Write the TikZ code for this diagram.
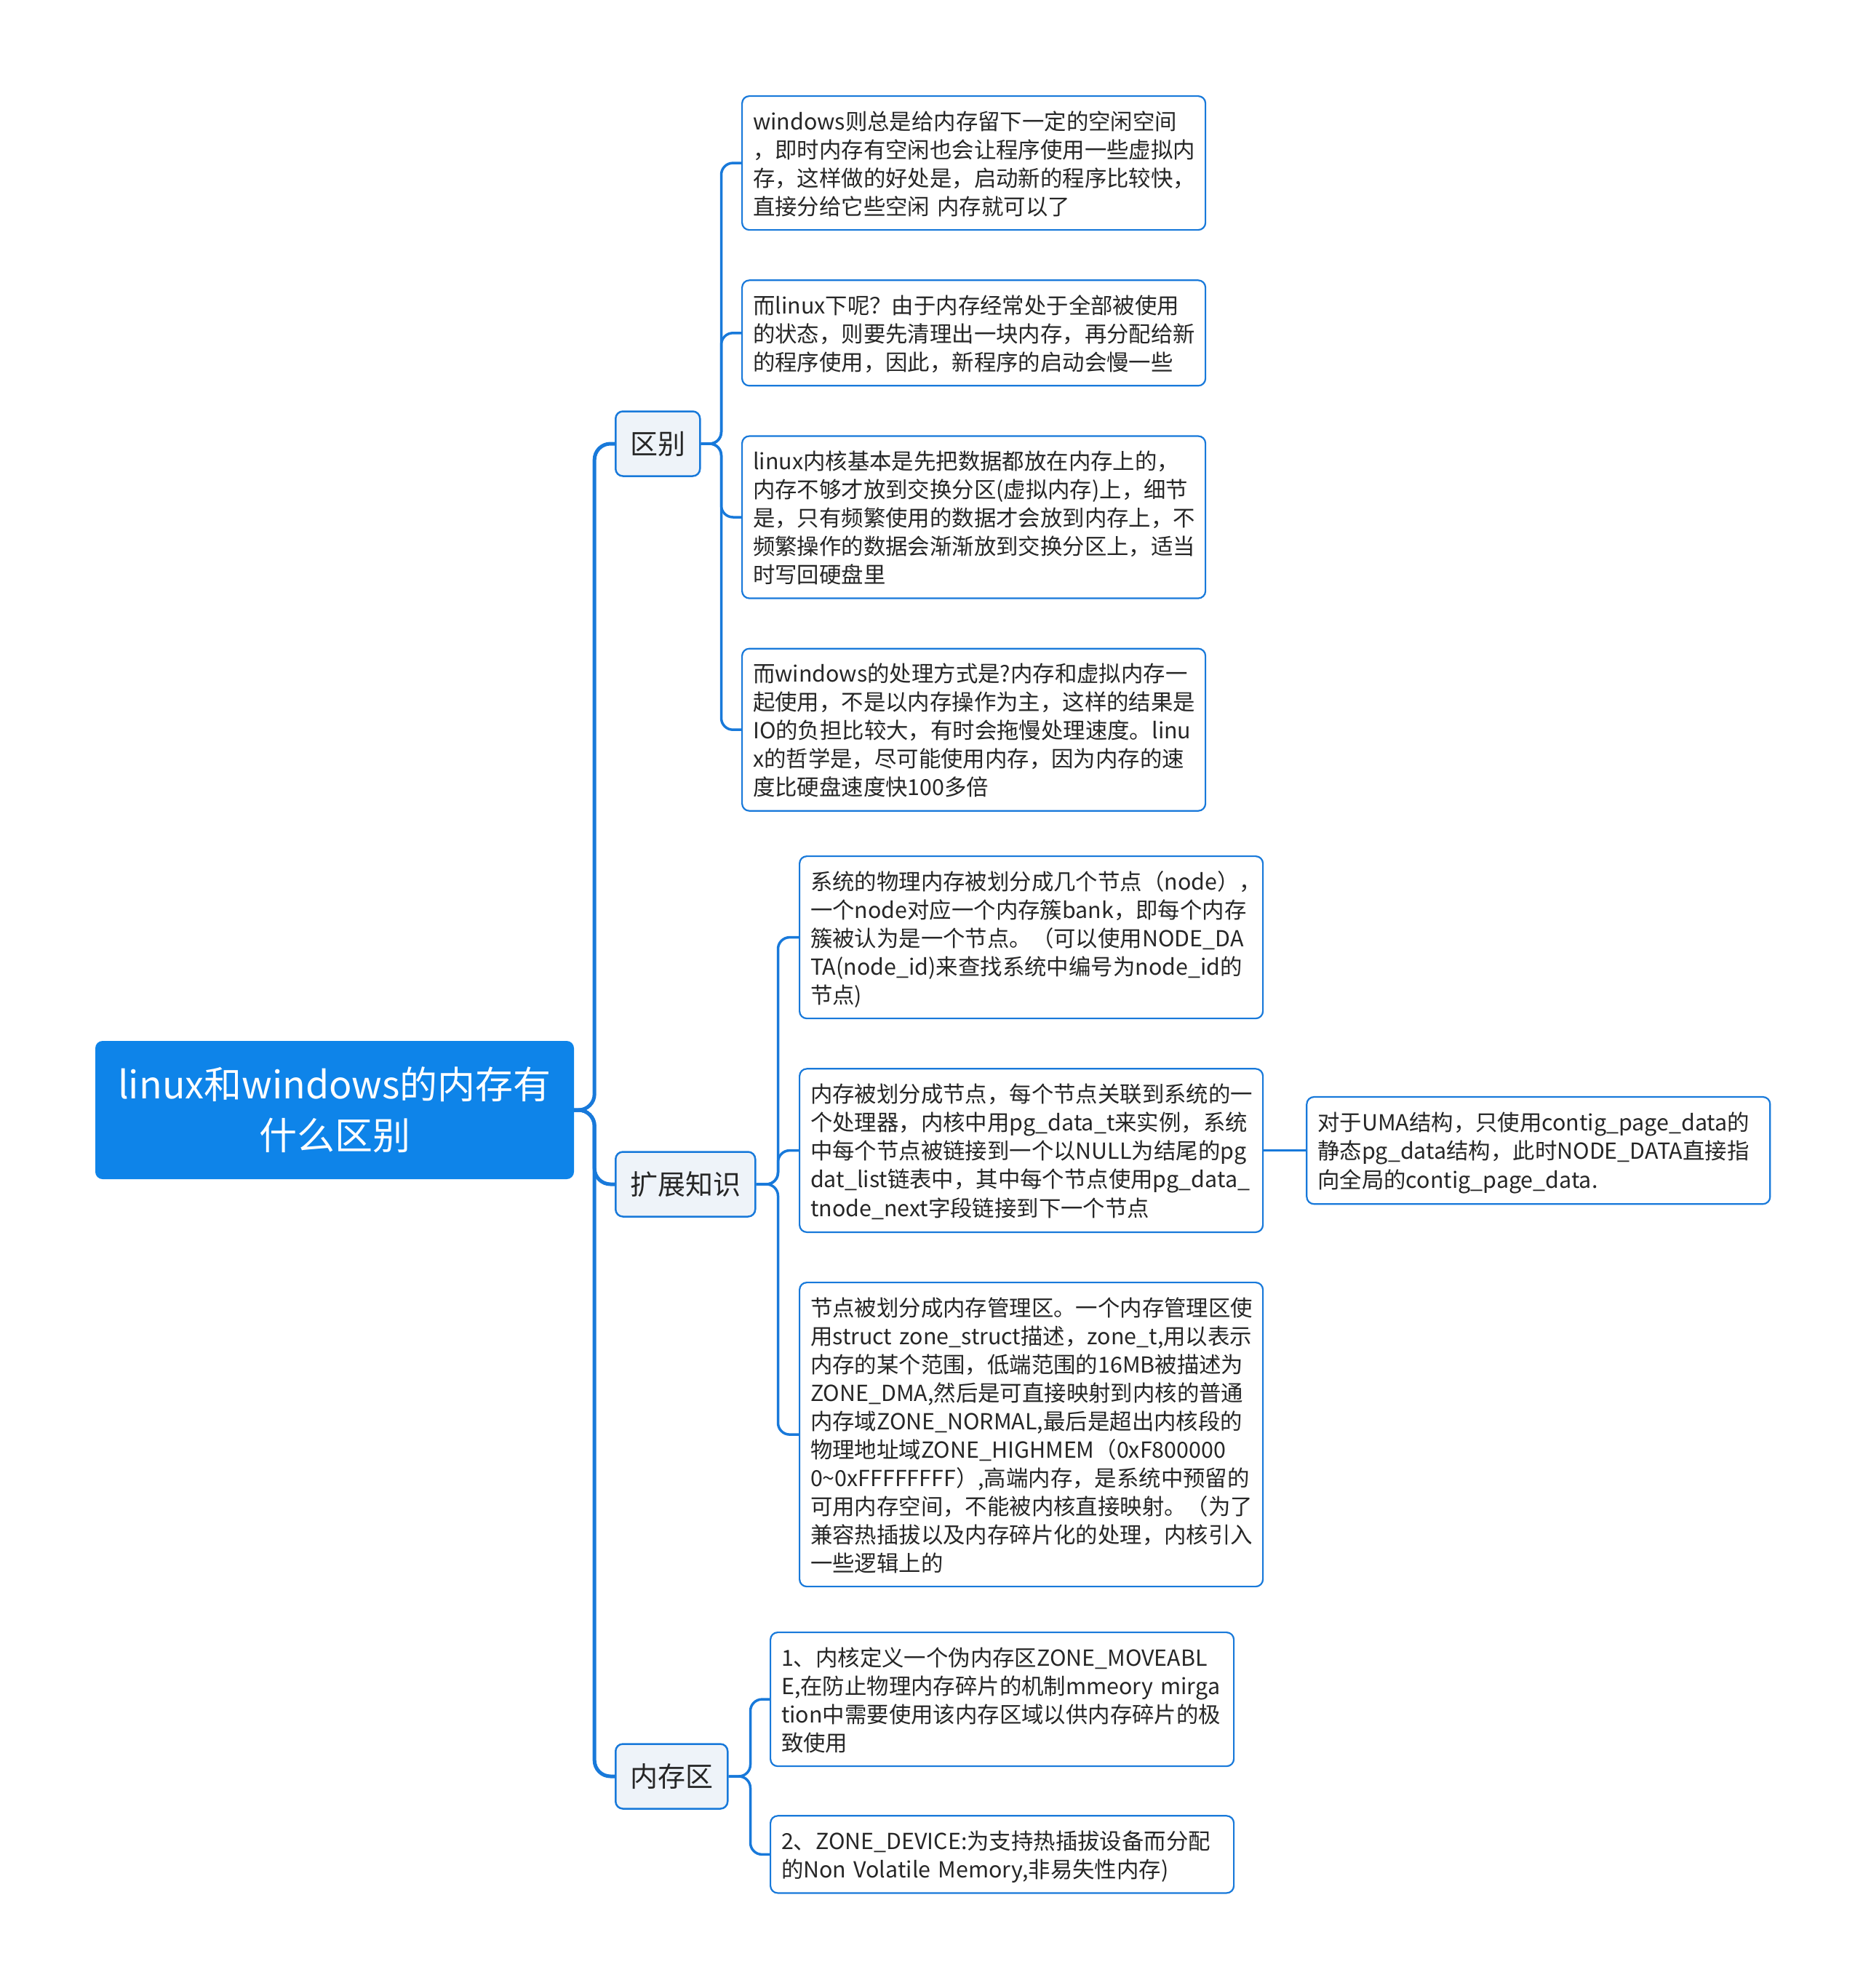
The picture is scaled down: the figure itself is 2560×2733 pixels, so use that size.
\documentclass[tikz,border=0pt]{standalone}
\usepackage{fontspec}
\setmainfont{Noto Sans CJK SC}
\usepackage{xcolor}
\usetikzlibrary{positioning}

\definecolor{rootblue}{RGB}{14,132,233}
\definecolor{lineblue}{RGB}{24,121,218}
\definecolor{topicfill}{RGB}{238,243,249}
\definecolor{inktext}{RGB}{38,38,38}

\newcommand{\notestrut}{\rule[-7pt]{0pt}{39pt}}

\tikzset{
  rootbox/.style={fill=rootblue, rounded corners=10pt, text=white, align=center,
    font=\fontsize{52}{70}\selectfont, minimum width=658pt, minimum height=190pt},
  topicbox/.style={draw=lineblue, line width=2.5pt, fill=topicfill, rounded corners=10pt,
    text=inktext, font=\fontsize{38}{46}\selectfont, minimum height=89pt, inner xsep=20pt},
  notebox/.style={draw=lineblue, line width=2.2pt, fill=white, rounded corners=10pt,
    text=inktext, font=\fontsize{30.4}{39}\selectfont, text width=607pt, align=left,
    inner xsep=15pt, inner ysep=14pt,
    execute at begin node=\notestrut, execute at end node=\notestrut},
  trunk/.style={draw=lineblue, line width=5pt, rounded corners=22pt},
  twig/.style={draw=lineblue, line width=3.5pt, rounded corners=16pt}
}

\begin{document}
\begin{tikzpicture}[x=1pt, y=-1pt, node distance=67pt]
    \useasboundingbox (0,0) rectangle (2560,2733);

        \node [rootbox] (root) at (460,1526) {linux和windows的内存有\\什么区别};

        \node [topicbox, anchor=west] (diff) at (845,610) {区别};
        \node [topicbox, anchor=west] (ext) at (845,1628) {扩展知识};
        \node [topicbox, anchor=west] (zone) at (845,2442) {内存区};

        % 区别
        \node [notebox, anchor=north west] (win1) at (1019,131) {windows则总是给内存留下一定的空闲空间\\，即时内存有空闲也会让程序使用一些虚拟内\\存，这样做的好处是，启动新的程序比较快，\\直接分给它些空闲 内存就可以了};
        \node [notebox] (lin1) [below=of win1] {而linux下呢？由于内存经常处于全部被使用\\的状态，则要先清理出一块内存，再分配给新\\的程序使用，因此，新程序的启动会慢一些};
        \node [notebox] (lin2) [below=of lin1] {linux内核基本是先把数据都放在内存上的，\\内存不够才放到交换分区(虚拟内存)上，细节\\是，只有频繁使用的数据才会放到内存上，不\\频繁操作的数据会渐渐放到交换分区上，适当\\时写回硬盘里};
        \node [notebox] (win2) [below=of lin2] {而windows的处理方式是?内存和虚拟内存一\\起使用，不是以内存操作为主，这样的结果是\\IO的负担比较大，有时会拖慢处理速度。linu\\x的哲学是，尽可能使用内存，因为内存的速\\度比硬盘速度快100多倍};

        % 扩展知识
        \node [notebox, anchor=north west] (nodes) at (1098,1176) {系统的物理内存被划分成几个节点（node），\\一个node对应一个内存簇bank，即每个内存\\簇被认为是一个节点。（可以使用NODE\_DA\\TA(node\_id)来查找系统中编号为node\_id的\\节点)};
        \node [notebox] (pgdata) [below=of nodes] {内存被划分成节点，每个节点关联到系统的一\\个处理器，内核中用pg\_data\_t来实例，系统\\中每个节点被链接到一个以NULL为结尾的pg\\dat\_list链表中，其中每个节点使用pg\_data\_\\tnode\_next字段链接到下一个节点};
        \node [notebox] (zones) [below=of pgdata] {节点被划分成内存管理区。一个内存管理区使\\用struct~zone\_struct描述，zone\_t,用以表示\\内存的某个范围，低端范围的16MB被描述为\\ZONE\_DMA,然后是可直接映射到内核的普通\\内存域ZONE\_NORMAL,最后是超出内核段的\\物理地址域ZONE\_HIGHMEM（0xF800000\\0\textasciitilde 0xFFFFFFFF）,高端内存，是系统中预留的\\可用内存空间，不能被内核直接映射。（为了\\兼容热插拔以及内存碎片化的处理，内核引入\\一些逻辑上的};
        \node [notebox] (uma) [right=58pt of pgdata] {对于UMA结构，只使用contig\_page\_data的\\静态pg\_data结构，此时NODE\_DATA直接指\\向全局的contig\_page\_data.};

        % 内存区
        \node [notebox, anchor=north west] (movable) at (1058,2243) {1、内核定义一个伪内存区ZONE\_MOVEABL\\E,在防止物理内存碎片的机制mmeory~mirga\\tion中需要使用该内存区域以供内存碎片的极\\致使用};
        \node [notebox] (device) [below=66pt of movable] {2、ZONE\_DEVICE:为支持热插拔设备而分配\\的Non~Volatile~Memory,非易失性内存)};

        \draw [trunk] (root.east) -- ++(28,0) |- (diff.west);
        \draw [trunk] (root.east) -- ++(28,0) |- (ext.west);
        \draw [trunk] (root.east) -- ++(28,0) |- (zone.west);

        \draw [twig] (diff.east) -- ++(28,0) |- (win1.west);
        \draw [twig] (diff.east) -- ++(28,0) |- (lin1.west);
        \draw [twig] (diff.east) -- ++(28,0) |- (lin2.west);
        \draw [twig] (diff.east) -- ++(28,0) |- (win2.west);

        \draw [twig] (ext.east) -- ++(30,0) |- (nodes.west);
        \draw [twig] (ext.east) -- ++(30,0) |- (pgdata.west);
        \draw [twig] (ext.east) -- ++(30,0) |- (zones.west);
        \draw [twig] (pgdata) -- (uma);

        \draw [twig] (zone.east) -- ++(30,0) |- (movable.west);
        \draw [twig] (zone.east) -- ++(30,0) |- (device.west);

    \end{tikzpicture}
\end{document}
